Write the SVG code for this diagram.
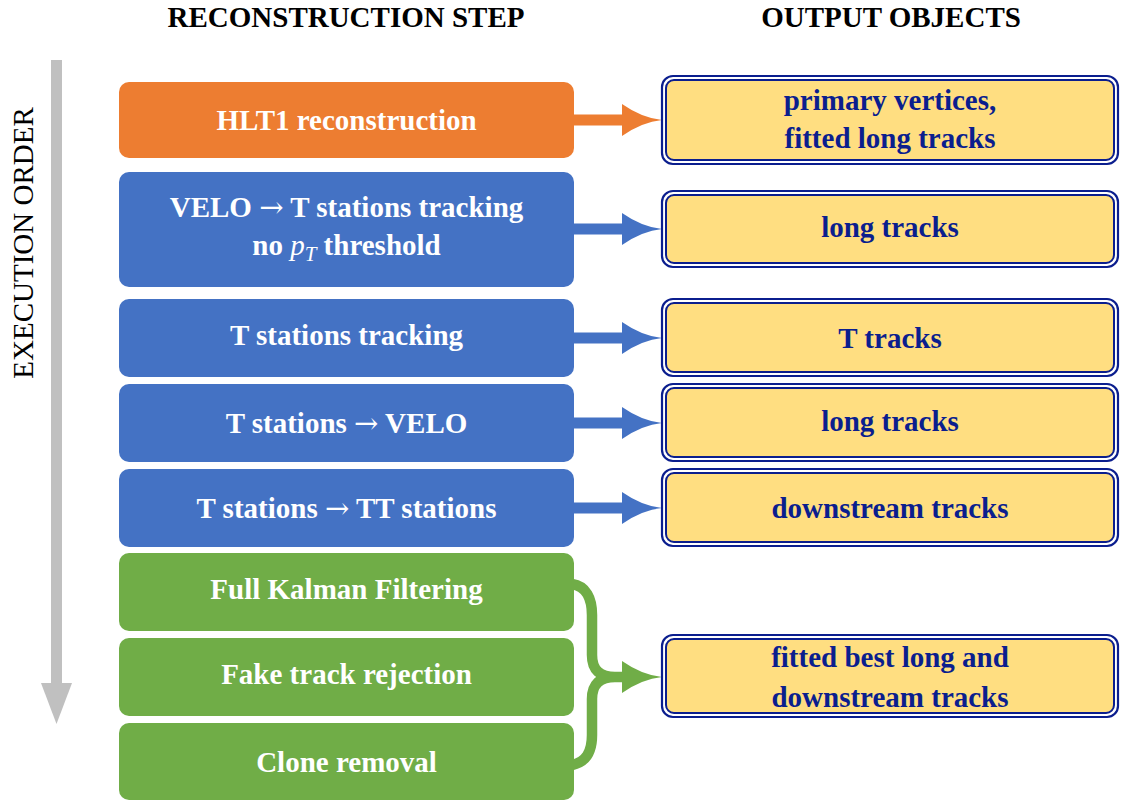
<svg xmlns="http://www.w3.org/2000/svg" width="1121" height="803" viewBox="0 0 1121 803">
<style>
.hdr{font-family:"Liberation Serif",serif;font-weight:bold;font-size:29px;fill:#000;text-anchor:middle}
.lt{font-family:"Liberation Serif",serif;font-weight:bold;font-size:29px;fill:#fff;text-anchor:middle}
.rt{font-family:"Liberation Serif",serif;font-weight:bold;font-size:29px;fill:#0B1E8E;text-anchor:middle}
.arr{font-family:"DejaVu Serif",serif;font-weight:normal}
.orange{fill:#ED7D31}
.blue{fill:#4472C4}
.green{fill:#70AD47}
.outer{fill:#fff;stroke:#0B1E8E;stroke-width:2.2}
.inner{fill:#FFDE81;stroke:#0B1E8E;stroke-width:2}
</style>
<defs>
<path id="head" d="M0,-16 Q20,-2 40,0 Q20,2 0,16 Z"/>
</defs>
<rect width="1121" height="803" fill="#fff"/>
<text class="hdr" x="346" y="27">RECONSTRUCTION STEP</text>
<text class="hdr" x="891" y="27">OUTPUT OBJECTS</text>
<g id="order">
<rect x="51" y="60" width="11" height="625" fill="#C0C0C0"/>
<path d="M41,683 L72,683 L56.5,724 Z" fill="#C0C0C0"/>
<text x="33" y="243" transform="rotate(-90 33 243)" style="font-family:'Liberation Serif',serif;font-size:29px;fill:#000;text-anchor:middle">EXECUTION ORDER</text>
</g>
<g id="connectors">
<rect x="574" y="114.5" width="52" height="11" class="orange"/>
<use href="#head" transform="translate(622,120)" class="orange"/>
<rect x="574" y="223.5" width="52" height="11" class="blue"/>
<use href="#head" transform="translate(622,229)" class="blue"/>
<rect x="574" y="332.5" width="52" height="11" class="blue"/>
<use href="#head" transform="translate(622,338)" class="blue"/>
<rect x="574" y="417.5" width="52" height="11" class="blue"/>
<use href="#head" transform="translate(622,423)" class="blue"/>
<rect x="574" y="502.5" width="52" height="11" class="blue"/>
<use href="#head" transform="translate(622,508)" class="blue"/>
<path d="M572,584 C586,586 592,598 592,615 L592,655 C592,670 600,677 615,677 L626,677 M572,765 C586,762 592,752 592,735 L592,699 C592,684 600,677 615,677" fill="none" stroke="#70AD47" stroke-width="10.5"/>
<use href="#head" transform="translate(622,677)" class="green"/>
</g>
<g id="hlt1"><rect x="119" y="82" width="455" height="76" rx="10" class="orange"/><text class="lt" x="346.5" y="130">HLT1 reconstruction</text></g>
<g id="velo-t"><rect x="119" y="172" width="455" height="115" rx="10" class="blue"/><text class="lt" x="346.5" y="217">VELO <tspan class="arr">→</tspan> T stations tracking</text><text class="lt" x="346.5" y="255">no <tspan style="font-weight:normal;font-style:italic">p<tspan font-size="21" dy="6">T</tspan></tspan><tspan dy="-6">  threshold</tspan></text></g>
<g id="t-tracking"><rect x="119" y="299" width="455" height="78" rx="10" class="blue"/><text class="lt" x="346.5" y="345">T stations tracking</text></g>
<g id="t-velo"><rect x="119" y="384" width="455" height="78" rx="10" class="blue"/><text class="lt" x="346.5" y="433">T stations <tspan class="arr">→</tspan> VELO</text></g>
<g id="t-tt"><rect x="119" y="469" width="455" height="78" rx="10" class="blue"/><text class="lt" x="346.5" y="518">T stations <tspan class="arr">→</tspan> TT stations</text></g>
<g id="kalman"><rect x="119" y="553" width="455" height="78" rx="10" class="green"/><text class="lt" x="346.5" y="599">Full Kalman Filtering</text></g>
<g id="fake"><rect x="119" y="638" width="455" height="78" rx="10" class="green"/><text class="lt" x="346.5" y="684">Fake track rejection</text></g>
<g id="clone"><rect x="119" y="723" width="455" height="77" rx="10" class="green"/><text class="lt" x="346.5" y="772">Clone removal</text></g>
<g id="out-pv"><rect x="662" y="76" width="456" height="88" rx="11" class="outer"/><rect x="666" y="80" width="448" height="80" rx="8" class="inner"/><text class="rt" x="890" y="110">primary vertices,</text><text class="rt" x="890" y="148">fitted long tracks</text></g>
<g id="out-long1"><rect x="662" y="191" width="456" height="76" rx="11" class="outer"/><rect x="666" y="195" width="448" height="68" rx="8" class="inner"/><text class="rt" x="890" y="237">long tracks</text></g>
<g id="out-t"><rect x="662" y="299" width="456" height="77" rx="11" class="outer"/><rect x="666" y="303" width="448" height="69" rx="8" class="inner"/><text class="rt" x="890" y="348">T tracks</text></g>
<g id="out-long2"><rect x="662" y="384" width="456" height="77" rx="11" class="outer"/><rect x="666" y="388" width="448" height="69" rx="8" class="inner"/><text class="rt" x="890" y="431">long tracks</text></g>
<g id="out-down"><rect x="662" y="469" width="456" height="77" rx="11" class="outer"/><rect x="666" y="473" width="448" height="69" rx="8" class="inner"/><text class="rt" x="890" y="518">downstream tracks</text></g>
<g id="out-best"><rect x="662" y="635" width="456" height="82" rx="11" class="outer"/><rect x="666" y="639" width="448" height="74" rx="8" class="inner"/><text class="rt" x="890" y="667">fitted best long and</text><text class="rt" x="890" y="707">downstream tracks</text></g>
</svg>
